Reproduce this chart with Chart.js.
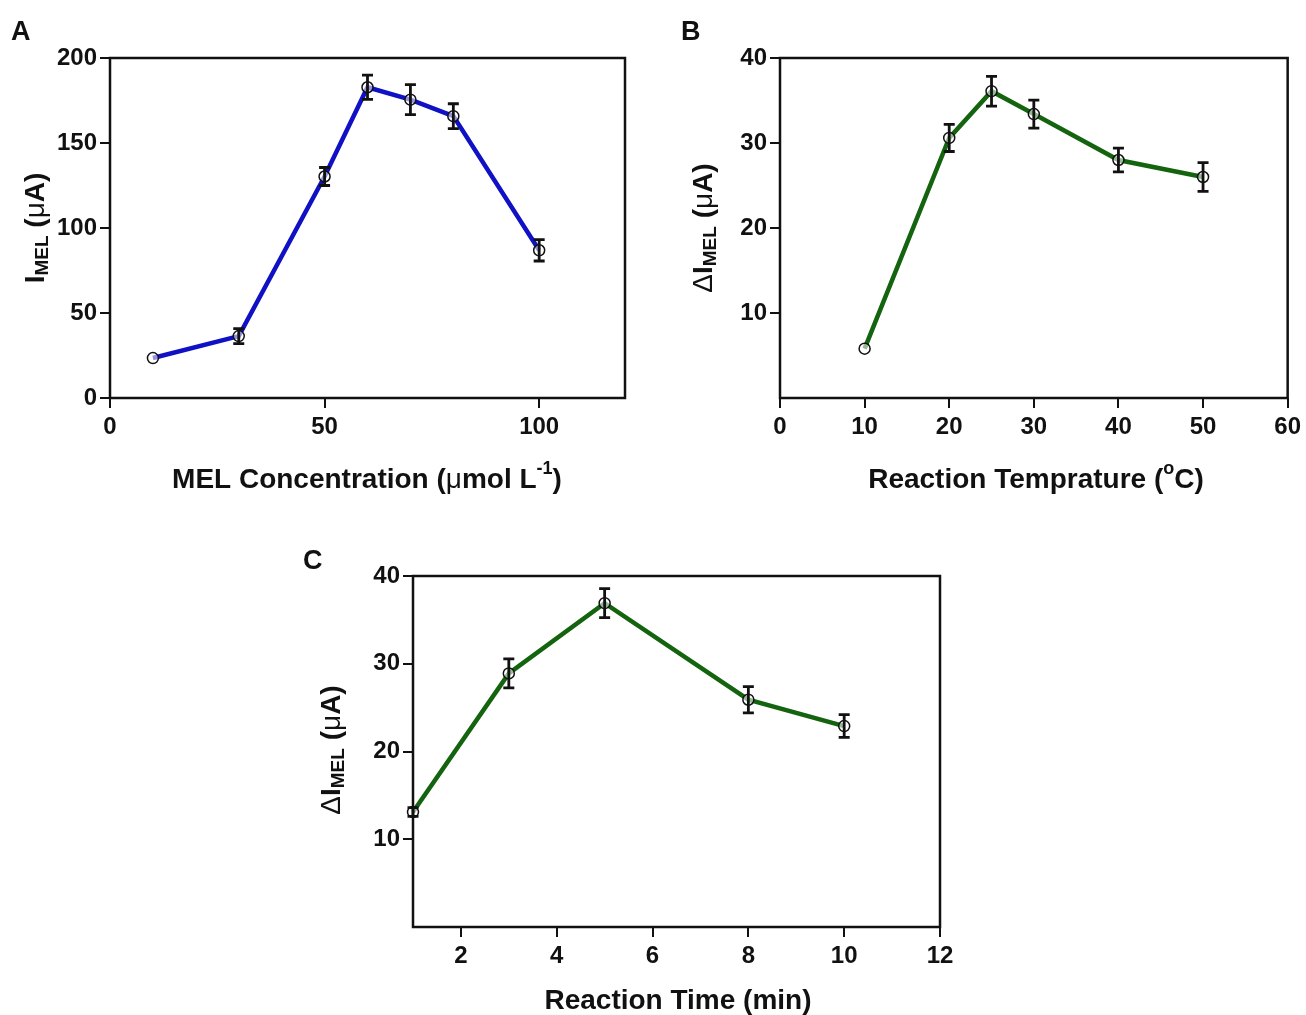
<!DOCTYPE html>
<html lang="en">
<head>
  <meta charset="UTF-8" />
  <title>MEL optimisation</title>
  <script src="https://cdn.jsdelivr.net/npm/chart.js"></script>
  <style>
    html, body { margin: 0; padding: 0; background: #fff; }
    .page { position: relative; width: 1306px; height: 1015px; overflow: hidden; }
    canvas { position: absolute; }
    #chart-a { left: 0; top: 0; }
    #chart-b { left: 660px; top: 0; }
    #chart-c { left: 300px; top: 530px; }
  </style>
</head>
<body>
  <div class="page">
    <canvas id="chart-a" width="650" height="510"></canvas>
    <canvas id="chart-b" width="646" height="510"></canvas>
    <canvas id="chart-c" width="680" height="485"></canvas>
  </div>

  <script>
    // A: MEL concentration
    const concX = [10, 30, 50, 60, 70, 80, 100];
    const concY = [23.5, 36.4, 130.3, 182.8, 175.5, 165.8, 86.9];
    const concErr = [0, 4.4, 5.3, 7.1, 8.8, 7.3, 6.3];
    const concXTicks = [0, 50, 100];
    const concYTicks = [0, 50, 100, 150, 200];

    // B: reaction temperature
    const tempX = [10, 20, 25, 30, 40, 50];
    const tempY = [5.8, 30.6, 36.1, 33.4, 28.0, 26.0];
    const tempErr = [0, 1.6, 1.75, 1.65, 1.4, 1.7];
    const tempXTicks = [0, 10, 20, 30, 40, 50, 60];
    const tempYTicks = [10, 20, 30, 40];

    // C: reaction time
    const timeX = [1, 3, 5, 8, 10];
    const timeY = [13.1, 28.9, 36.9, 25.9, 22.9];
    const timeErr = [0.5, 1.65, 1.65, 1.5, 1.3];
    const timeXTicks = [2, 4, 6, 8, 10, 12];
    const timeYTicks = [10, 20, 30, 40];

    const FONT = "'Liberation Sans', Arial, sans-serif";

    // draws a run of text pieces (normal / sub / sup / symbol), centred on x,y
    function drawRich(ctx, x, y, parts, rotate) {
      const styles = {
        n:   { font: `bold 28px ${FONT}`, dy: 0 },
        sym: { font: `28px ${FONT}`, dy: 0 },
        sub: { font: `bold 19px ${FONT}`, dy: 7 },
        sup: { font: `bold 18px ${FONT}`, dy: -11 }
      };
      let total = 0;
      parts.forEach(p => { ctx.font = styles[p[1]].font; total += ctx.measureText(p[0]).width; });
      ctx.save();
      ctx.translate(x, y);
      if (rotate) ctx.rotate(-Math.PI / 2);
      ctx.fillStyle = '#111';
      ctx.textBaseline = 'middle';
      ctx.textAlign = 'left';
      let cx = -total / 2;
      parts.forEach(p => {
        const s = styles[p[1]];
        ctx.font = s.font;
        ctx.fillText(p[0], cx, s.dy);
        cx += ctx.measureText(p[0]).width;
      });
      ctx.restore();
    }

    const decorPlugin = {
      id: 'decor',
      afterDatasetsDraw(chart, args, opts) {
        const { ctx, chartArea: a, scales } = chart;
        // error bars
        const ds = chart.data.datasets[0];
        ctx.save();
        ctx.strokeStyle = '#111';
        ctx.lineWidth = 2.8;
        ds.data.forEach((pt, i) => {
          const e = opts.err[i];
          if (!e) return;
          const px = scales.x.getPixelForValue(pt.x);
          const top = scales.y.getPixelForValue(pt.y + e);
          const bot = scales.y.getPixelForValue(pt.y - e);
          ctx.beginPath();
          ctx.moveTo(px, top); ctx.lineTo(px, bot);
          ctx.moveTo(px - 5.5, top); ctx.lineTo(px + 5.5, top);
          ctx.moveTo(px - 5.5, bot); ctx.lineTo(px + 5.5, bot);
          ctx.stroke();
        });
        // frame
        ctx.lineWidth = 2.5;
        ctx.strokeRect(a.left, a.top, a.right - a.left, a.bottom - a.top);
        ctx.restore();
      },
      afterDraw(chart, args, opts) {
        const ctx = chart.ctx;
        ctx.save();
        ctx.fillStyle = '#111';
        ctx.font = `bold 27px ${FONT}`;
        ctx.textBaseline = 'alphabetic';
        ctx.fillText(opts.letter[0], opts.letter[1], opts.letter[2]);
        ctx.restore();
        drawRich(ctx, opts.xTitle.x, opts.xTitle.y, opts.xTitle.parts, false);
        drawRich(ctx, opts.yTitle.x, opts.yTitle.y, opts.yTitle.parts, true);
      }
    };

    function makeChart(id, cfg) {
      const axisGrid = { drawOnChartArea: false, drawTicks: true, tickLength: 10, color: '#111', lineWidth: 2 };
      const tickFont = { family: FONT, weight: 'bold', size: 24 };
      return new Chart(document.getElementById(id), {
        type: 'line',
        data: {
          datasets: [{
            data: cfg.x.map((v, i) => ({ x: v, y: cfg.y[i] })),
            borderColor: cfg.color,
            borderWidth: 4.5,
            pointRadius: 5.5,
            pointBorderWidth: 1.5,
            pointBorderColor: '#111',
            pointBackgroundColor: 'rgba(255,255,255,0.55)',
            tension: 0,
            clip: false
          }]
        },
        options: {
          responsive: false,
          animation: false,
          devicePixelRatio: 1,
          layout: { padding: cfg.padding },
          plugins: {
            legend: { display: false },
            tooltip: { enabled: false },
            decor: { err: cfg.err, letter: cfg.letter, xTitle: cfg.xTitle, yTitle: cfg.yTitle }
          },
          scales: {
            x: {
              type: 'linear',
              min: cfg.xMin, max: cfg.xMax,
              border: { display: false },
              grid: axisGrid,
              ticks: { font: tickFont, color: '#111', padding: 5, maxRotation: 0 },
              afterBuildTicks: s => { s.ticks = cfg.xTicks.map(v => ({ value: v })); },
              afterFit: s => { s.height = cfg.xHeight; }
            },
            y: {
              type: 'linear',
              min: cfg.yMin, max: cfg.yMax,
              border: { display: false },
              grid: axisGrid,
              ticks: { font: tickFont, color: '#111', padding: 3 },
              afterBuildTicks: s => { s.ticks = cfg.yTicks.map(v => ({ value: v })); },
              afterFit: s => { s.width = cfg.yWidth; }
            }
          }
        },
        plugins: [decorPlugin]
      });
    }

    makeChart('chart-a', {
      x: concX, y: concY, err: concErr, color: '#1010c4',
      xMin: 0, xMax: 120, yMin: 0, yMax: 200,
      xTicks: concXTicks, yTicks: concYTicks,
      padding: { top: 58, right: 25, left: 0, bottom: 0 },
      yWidth: 110, xHeight: 112,
      letter: ['A', 11, 40],
      xTitle: { x: 367, y: 480, parts: [['MEL Concentration (', 'n'], ['\u03bc', 'sym'], ['mol L', 'n'], ['-1', 'sup'], [')', 'n']] },
      yTitle: { x: 36, y: 228, parts: [['I', 'n'], ['MEL', 'sub'], [' (', 'n'], ['\u03bc', 'sym'], ['A)', 'n']] }
    });

    makeChart('chart-b', {
      x: tempX, y: tempY, err: tempErr, color: '#14640f',
      xMin: 0, xMax: 60, yMin: 0, yMax: 40,
      xTicks: tempXTicks, yTicks: tempYTicks,
      padding: { top: 58, right: 16, left: 0, bottom: 0 },
      yWidth: 120, xHeight: 112,
      letter: ['B', 21, 40],
      xTitle: { x: 376, y: 480, parts: [['Reaction Temprature (', 'n'], ['o', 'sup'], ['C)', 'n']] },
      yTitle: { x: 44, y: 228, parts: [['\u0394', 'sym'], ['I', 'n'], ['MEL', 'sub'], [' (', 'n'], ['\u03bc', 'sym'], ['A)', 'n']] }
    });

    makeChart('chart-c', {
      x: timeX, y: timeY, err: timeErr, color: '#14640f',
      xMin: 1, xMax: 12, yMin: 0, yMax: 40,
      xTicks: timeXTicks, yTicks: timeYTicks,
      padding: { top: 46, right: 40, left: 0, bottom: 0 },
      yWidth: 113, xHeight: 88,
      letter: ['C', 3, 39],
      xTitle: { x: 378, y: 471, parts: [['Reaction Time (min)', 'n']] },
      yTitle: { x: 32, y: 220, parts: [['\u0394', 'sym'], ['I', 'n'], ['MEL', 'sub'], [' (', 'n'], ['\u03bc', 'sym'], ['A)', 'n']] }
    });
  </script>
</body>
</html>
